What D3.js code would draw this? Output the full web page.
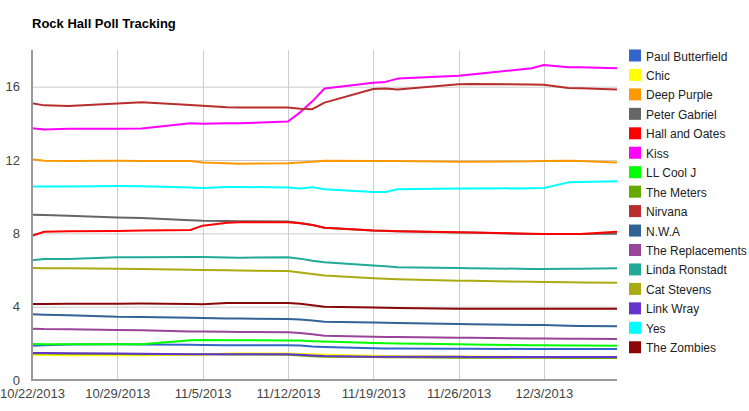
<!DOCTYPE html>
<html>
<head>
<meta charset="utf-8">
<script src="https://cdn.jsdelivr.net/npm/d3@7"></script>
<style>
  body { margin: 0; background: #fff; }
  text { font-family: "Liberation Sans", Arial, sans-serif; }
</style>
</head>
<body>
<div id="main"></div>
<script>
const Width = 749, Height = 411;

// sample dates (days the values were read at)
const dates = ["2013-10-22", "2013-10-23", "2013-10-25", "2013-10-29", "2013-10-31", "2013-11-04",
    "2013-11-05", "2013-11-07", "2013-11-08", "2013-11-12", "2013-11-13", "2013-11-14", "2013-11-15",
    "2013-11-19", "2013-11-20", "2013-11-21", "2013-11-26", "2013-11-27", "2013-12-02", "2013-12-03",
    "2013-12-05", "2013-12-06", "2013-12-09"];

const names = ["Paul Butterfield", "Chic", "Deep Purple", "Peter Gabriel", "Hall and Oates", "Kiss",
    "LL Cool J", "The Meters", "Nirvana", "N.W.A", "The Replacements", "Linda Ronstadt", "Cat Stevens",
    "Link Wray", "Yes", "The Zombies"];

const colors = ["#3366cc", "#ffff00", "#ff9900", "#666666", "#ff0000", "#ff00ff", "#00ff00", "#66aa00",
    "#b82e2e", "#316395", "#994499", "#22aa99", "#aaaa11", "#6633cc", "#00ffff", "#8b0707"];

const paulButterfield = [1.87, 1.90, 1.93, 1.95, 1.94, 1.92, 1.91, 1.90, 1.90, 1.89, 1.88, 1.83, 1.80, 1.73, 1.72, 1.72, 1.71, 1.71, 1.69, 1.69, 1.69, 1.69, 1.69];
const chic = [1.36, 1.36, 1.35, 1.35, 1.35, 1.38, 1.38, 1.45, 1.45, 1.45, 1.42, 1.40, 1.38, 1.32, 1.31, 1.30, 1.28, 1.28, 1.26, 1.26, 1.25, 1.25, 1.24];
const deepPurple = [12.04, 11.96, 11.95, 11.96, 11.95, 11.94, 11.86, 11.82, 11.80, 11.82, 11.86, 11.90, 11.96, 11.95, 11.95, 11.94, 11.91, 11.91, 11.93, 11.95, 11.96, 11.95, 11.87];
const peterGabriel = [9.02, 9.00, 8.96, 8.87, 8.83, 8.72, 8.69, 8.67, 8.66, 8.64, 8.56, 8.46, 8.30, 8.15, 8.13, 8.11, 8.05, 8.04, 7.97, 7.96, 7.96, 7.97, 7.98];
const hallAndOates = [7.87, 8.09, 8.12, 8.13, 8.15, 8.18, 8.42, 8.58, 8.60, 8.61, 8.55, 8.45, 8.30, 8.16, 8.14, 8.12, 8.06, 8.05, 7.98, 7.97, 7.96, 7.97, 8.09];
const kiss = [13.73, 13.67, 13.70, 13.70, 13.72, 14.00, 13.98, 14.00, 14.00, 14.10, 14.60, 15.20, 15.90, 16.22, 16.26, 16.44, 16.60, 16.66, 17.00, 17.18, 17.06, 17.06, 17.00];
const llCoolJ = [1.96, 1.95, 1.95, 1.95, 1.95, 2.17, 2.18, 2.17, 2.17, 2.15, 2.15, 2.12, 2.10, 2.02, 2.00, 1.99, 1.95, 1.94, 1.90, 1.89, 1.88, 1.88, 1.87];
const theMeters = [1.44, 1.44, 1.43, 1.42, 1.41, 1.40, 1.40, 1.39, 1.39, 1.38, 1.34, 1.30, 1.27, 1.25, 1.24, 1.24, 1.22, 1.22, 1.21, 1.21, 1.20, 1.20, 1.20];
const nirvana = [15.09, 14.98, 14.95, 15.08, 15.15, 15.00, 14.96, 14.88, 14.86, 14.86, 14.80, 14.77, 15.13, 15.87, 15.90, 15.85, 16.13, 16.15, 16.12, 16.10, 15.93, 15.92, 15.85];
const nwa = [3.58, 3.56, 3.53, 3.45, 3.44, 3.39, 3.38, 3.36, 3.35, 3.33, 3.30, 3.24, 3.18, 3.13, 3.12, 3.11, 3.05, 3.04, 3.00, 3.00, 2.96, 2.95, 2.93];
const theReplacements = [2.80, 2.78, 2.77, 2.73, 2.71, 2.65, 2.64, 2.63, 2.62, 2.60, 2.57, 2.49, 2.42, 2.36, 2.35, 2.34, 2.31, 2.30, 2.27, 2.27, 2.25, 2.25, 2.24];
const lindaRonstadt = [6.53, 6.60, 6.60, 6.69, 6.70, 6.71, 6.71, 6.68, 6.67, 6.69, 6.62, 6.50, 6.42, 6.24, 6.20, 6.15, 6.11, 6.10, 6.06, 6.05, 6.07, 6.07, 6.09];
const catStevens = [6.11, 6.10, 6.09, 6.07, 6.06, 6.01, 6.00, 5.98, 5.97, 5.95, 5.87, 5.78, 5.70, 5.55, 5.52, 5.50, 5.42, 5.41, 5.36, 5.35, 5.33, 5.32, 5.31];
const linkWray = [1.47, 1.47, 1.46, 1.44, 1.43, 1.41, 1.40, 1.40, 1.40, 1.40, 1.38, 1.34, 1.31, 1.27, 1.27, 1.27, 1.27, 1.26, 1.25, 1.25, 1.25, 1.25, 1.25];
const yes = [10.56, 10.55, 10.56, 10.58, 10.57, 10.50, 10.47, 10.53, 10.53, 10.50, 10.45, 10.52, 10.40, 10.25, 10.26, 10.40, 10.44, 10.44, 10.46, 10.47, 10.78, 10.80, 10.84];
const theZombies = [4.15, 4.15, 4.16, 4.16, 4.17, 4.14, 4.13, 4.20, 4.20, 4.20, 4.16, 4.08, 4.00, 3.95, 3.94, 3.93, 3.89, 3.89, 3.89, 3.89, 3.89, 3.89, 3.89];

const values = [paulButterfield, chic, deepPurple, peterGabriel, hallAndOates, kiss, llCoolJ, theMeters,
    nirvana, nwa, theReplacements, lindaRonstadt, catStevens, linkWray, yes, theZombies];

const yTicks = [0, 4, 8, 12, 16];
const xTicks = ["2013-10-22", "2013-10-29", "2013-11-05", "2013-11-12", "2013-11-19", "2013-11-26", "2013-12-03"];

const parse = d3.timeParse("%Y-%m-%d");
const fmt = d => (d.getMonth() + 1) + "/" + d.getDate() + "/" + d.getFullYear();

const margin = {left: 32, top: 50, right: 132, bottom: 31};

const svg = d3.select("#main")
    .append("svg")
    .attr("width", Width)
    .attr("height", Height);

let Xscale = d3.scaleTime()
    .domain([parse("2013-10-22"), parse("2013-12-09")])
    .range([margin.left, Width - margin.right]);
let Yscale = d3.scaleLinear().domain([0, 18]).range([Height - margin.bottom, margin.top]);

svg.append("text")
    .attr("x", 32).attr("y", 28)
    .attr("font-size", 13).attr("font-weight", "bold").attr("fill", "#000")
    .text("Rock Hall Poll Tracking");

// gridlines
svg.append("g").selectAll("line").data(yTicks.slice(1)).enter().append("line")
    .attr("x1", margin.left).attr("x2", Width - margin.right)
    .attr("y1", d => Yscale(d) + 0.5).attr("y2", d => Yscale(d) + 0.5)
    .attr("stroke", "#cccccc");
svg.append("g").selectAll("line").data(xTicks.slice(1)).enter().append("line")
    .attr("x1", d => Math.round(Xscale(parse(d))) + 0.5).attr("x2", d => Math.round(Xscale(parse(d))) + 0.5)
    .attr("y1", margin.top).attr("y2", Height - margin.bottom)
    .attr("stroke", "#cccccc");

// axis labels
const yAxis = svg.append("g")
    .attr("transform", `translate(${margin.left},0)`)
    .call(d3.axisLeft(Yscale).tickValues(yTicks).tickSize(0).tickPadding(12));
const xAxis = svg.append("g")
    .attr("transform", `translate(0, ${Height - margin.bottom})`)
    .call(d3.axisBottom(Xscale).tickValues(xTicks.map(parse)).tickFormat(fmt).tickSize(0).tickPadding(9));
[yAxis, xAxis].forEach(a => {
    a.select(".domain").remove();
    a.selectAll("text").attr("font-size", 13).attr("fill", "#444")
        .style("font-family", "'Liberation Sans', Arial, sans-serif");
});

// lines
const line = d3.line()
    .x((d, i) => Xscale(parse(dates[i])))
    .y(d => Yscale(d));

svg.append("g").selectAll("path").data(values).enter().append("path")
    .attr("d", line)
    .attr("fill", "none")
    .attr("stroke", (d, i) => colors[i])
    .attr("stroke-width", 2)
    .attr("stroke-linejoin", "round");

// axis lines
svg.append("line")
    .attr("x1", margin.left).attr("x2", margin.left)
    .attr("y1", margin.top).attr("y2", Height - margin.bottom + 1)
    .attr("stroke", "#999").attr("stroke-width", 2);
svg.append("line")
    .attr("x1", margin.left - 1).attr("x2", Width - margin.right)
    .attr("y1", Height - margin.bottom).attr("y2", Height - margin.bottom)
    .attr("stroke", "#999").attr("stroke-width", 2);

// legend
const legend = svg.append("g").selectAll("g").data(names).enter().append("g")
    .attr("transform", (d, i) => `translate(629, ${49.5 + i * 19.45})`);
legend.append("rect")
    .attr("width", 12).attr("height", 12)
    .attr("fill", (d, i) => colors[i]);
legend.append("text")
    .attr("x", 17).attr("y", 11)
    .attr("font-size", 12).attr("fill", "#222")
    .text(d => d);
</script>
</body>
</html>
